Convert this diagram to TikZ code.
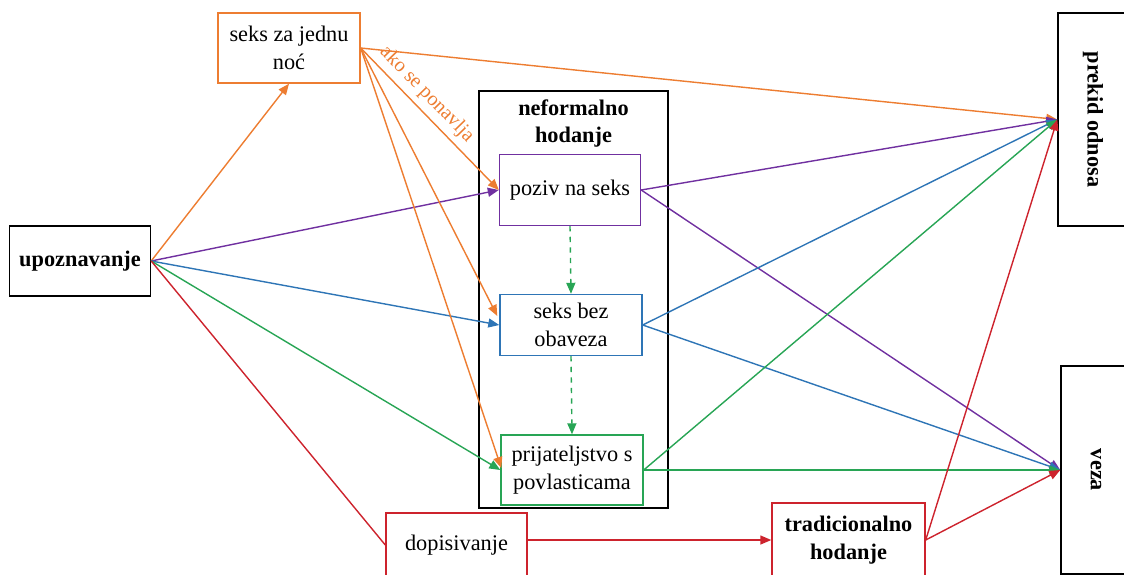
\documentclass[tikz,border=0pt]{standalone}
\usepackage{fontspec}
\setmainfont{Liberation Serif}
\usetikzlibrary{arrows.meta,calc}
\definecolor{narandzasta}{RGB}{237,125,49}
\definecolor{ljubicasta}{RGB}{112,48,160}
\definecolor{plava}{RGB}{46,117,182}
\definecolor{zelena}{RGB}{40,165,85}
\definecolor{crvena}{RGB}{205,35,45}
\tikzstyle{kutija} = [rectangle, draw=black, line width=0.8pt, align=center, inner sep=2pt, font=\fontsize{12.7}{16}\selectfont]
\tikzstyle{strelica} = [line width=0.8pt, -{Triangle[length=2.2mm,width=1.8mm]}]

\begin{document}
\begin{tikzpicture}

        \useasboundingbox (0,0) rectangle (22.48,-11.48);
        \clip (0,0) rectangle (22.48,-11.48);

        %% entities
        \node (neform) [kutija, minimum width=3.78cm, minimum height=8.34cm] at (11.47,-5.99) {};
        \node (nflabel) [anchor=north, align=center, font=\fontsize{12.7}{15.5}\selectfont\bfseries] at ($(neform.north)+(0,-0.06)$) {neformalno\\hodanje};

        \node (upoz) [kutija, minimum width=2.82cm, minimum height=1.40cm, font=\fontsize{12.7}{16}\selectfont\bfseries] at (1.60,-5.22) {upoznavanje};
        \node (jedna) [kutija, draw=narandzasta, minimum width=2.84cm, minimum height=1.40cm] at (5.78,-0.96) {seks za jednu\\noć};

        \node (poziv) [kutija, draw=ljubicasta, minimum width=2.82cm, minimum height=1.42cm] at (11.40,-3.80) {poziv na seks};
        \node (bez) [kutija, draw=plava, minimum width=2.84cm, minimum height=1.22cm] at (11.42,-6.50) {seks bez\\obaveza};
        \node (prij) [kutija, draw=zelena, minimum width=2.84cm, minimum height=1.40cm] at (11.44,-9.40) {prijateljstvo s\\povlasticama};

        \node (dopis) [kutija, draw=crvena, minimum width=2.82cm, minimum height=1.28cm] at (9.13,-10.90) {dopisivanje};
        \node (trad) [kutija, draw=crvena, minimum width=3.06cm, minimum height=1.48cm, font=\fontsize{12.7}{16}\selectfont\bfseries] at (16.97,-10.80) {tradicionalno\\hodanje};

        \node (prekid) [kutija, rotate=-90, minimum width=4.26cm, minimum height=1.40cm, font=\fontsize{12.7}{16}\selectfont\bfseries] at (21.86,-2.39) {prekid odnosa};
        \node (veza) [kutija, rotate=-90, minimum width=4.16cm, minimum height=1.40cm, font=\fontsize{12.7}{16}\selectfont\bfseries] at (21.92,-9.40) {veza};


        %% relations
        \draw[strelica, narandzasta] (upoz.east) -- (jedna.south);
        \draw[strelica, ljubicasta] (upoz.east) -- (poziv.west);
        \draw[strelica, plava] (upoz.east) -- (bez.west);
        \draw[strelica, zelena] (upoz.east) -- (prij.west);
        \draw[line width=0.8pt, crvena] (upoz.east) -- (dopis.west);

        \draw[strelica, narandzasta] (jedna.east) -- (prekid.south);
        \draw[strelica, narandzasta] (jedna.east) -- node[sloped, above, pos=0.4, inner sep=3pt, font=\fontsize{11.5}{13}\selectfont]{ako se ponavlja} (poziv.west);
        \draw[strelica, narandzasta] (jedna.east) -- ($(bez.west)+(-0.04,0.18)$);
        \draw[strelica, narandzasta] (jedna.east) -- ($(prij.west)+(0.02,0.04)$);

        \draw[strelica, ljubicasta] (poziv.east) -- (prekid.south);
        \draw[strelica, ljubicasta] (poziv.east) -- (veza.south);
        \draw[strelica, plava] (bez.east) -- (prekid.south);
        \draw[strelica, plava] (bez.east) -- (veza.south);
        \draw[strelica, zelena] (prij.east) -- (prekid.south);
        \draw[strelica, zelena] (prij.east) -- (veza.south);

        \draw[strelica, zelena, dashed] (poziv.south) -- (bez.north);
        \draw[strelica, zelena, dashed] (bez.south) -- (prij.north);

        \draw[strelica, crvena] ([yshift=0.1cm]dopis.east) -- ([yshift=0.1cm]dopis.east -| trad.west);
        \draw[strelica, crvena] (trad.east) -- (prekid.south);
        \draw[strelica, crvena] (trad.east) -- (veza.south);

    \end{tikzpicture}
\end{document}
